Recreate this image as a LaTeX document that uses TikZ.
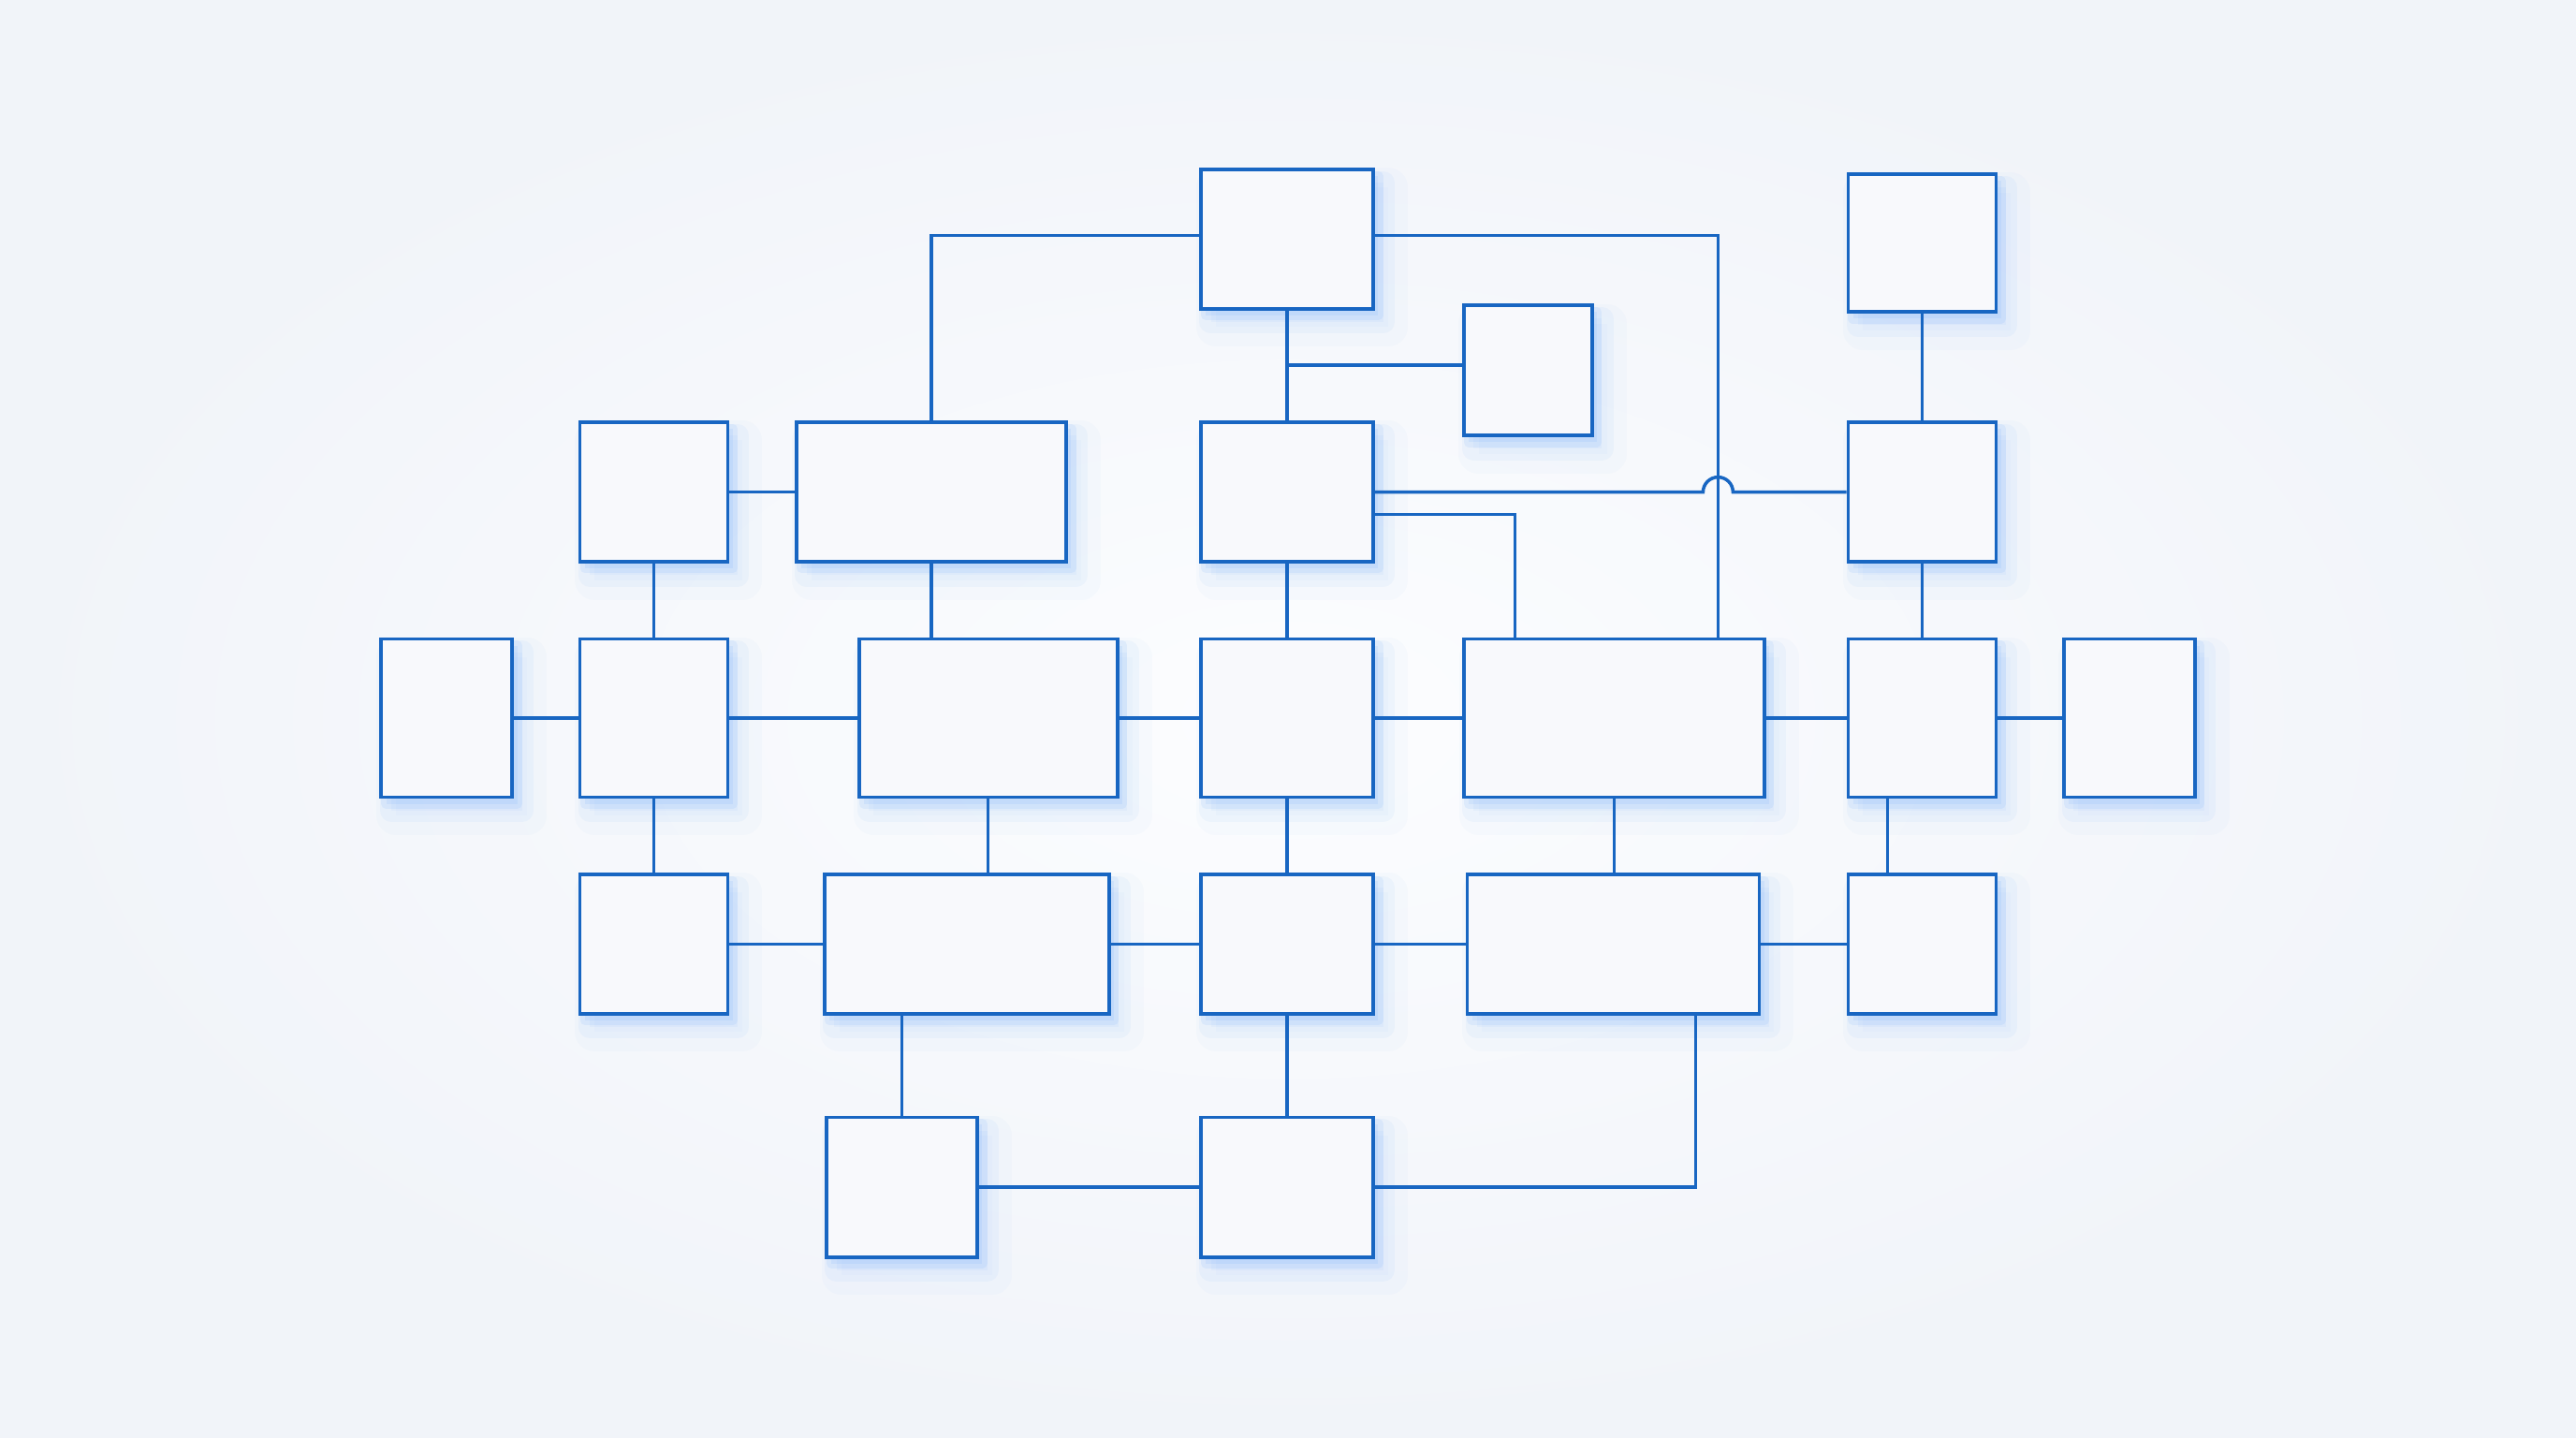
\documentclass[tikz,border=0pt]{standalone}
\usepackage{tikz}
\usetikzlibrary{shadows}
\definecolor{lineblue}{RGB}{24,102,194}
\definecolor{glowblue}{RGB}{50,135,250}
\definecolor{boxfill}{RGB}{248,249,252}
\definecolor{bgout}{RGB}{241,244,249}
\definecolor{bgin}{RGB}{252,253,255}
\begin{document}
\begin{tikzpicture}[x=0.01755cm, y=0.01755cm]
		\tikzstyle{box} = [draw=lineblue, line width=1.1pt, fill=boxfill, inner sep=0pt,
			general shadow={draw=glowblue, fill=glowblue, line width=12pt, line join=round, opacity=0.025, shadow xshift=4.5pt, shadow yshift=-5.5pt},
			general shadow={draw=glowblue, fill=glowblue, line width=7pt, line join=round, opacity=0.045, shadow xshift=3pt, shadow yshift=-4pt},
			general shadow={draw=glowblue, fill=glowblue, line width=3pt, line join=round, opacity=0.08, shadow xshift=1.5pt, shadow yshift=-2pt}]
		\tikzstyle{link} = [draw=lineblue, line width=1pt]
		\useasboundingbox (0,0) rectangle (1568,-875);
		\shade[inner color=bgin, outer color=bgout] (0,0) rectangle (1568,-875);

		% top
		\node [box, minimum width=1.84cm, minimum height=1.49cm] (top) at (783.5,-145.5) {};
		\node [box, minimum width=1.37cm, minimum height=1.39cm] (side) at (930,-225.5) {};
		\node [box, minimum width=1.58cm, minimum height=1.47cm] (topr) at (1170,-148) {};
		% second row
		\node [box, minimum width=1.58cm, minimum height=1.49cm] (a1) at (398,-299.5) {};
		\node [box, minimum width=2.88cm, minimum height=1.49cm] (a2) at (567,-299.5) {};
		\node [box, minimum width=1.84cm, minimum height=1.49cm] (a3) at (783.5,-299.5) {};
		\node [box, minimum width=1.58cm, minimum height=1.49cm] (a4) at (1170,-299.5) {};
		% middle row
		\node [box, minimum width=1.40cm, minimum height=1.69cm] (m1) at (272,-437) {};
		\node [box, minimum width=1.58cm, minimum height=1.69cm] (m2) at (398,-437) {};
		\node [box, minimum width=2.76cm, minimum height=1.69cm] (m3) at (601.5,-437) {};
		\node [box, minimum width=1.84cm, minimum height=1.69cm] (m4) at (783.5,-437) {};
		\node [box, minimum width=3.21cm, minimum height=1.69cm] (m5) at (982.5,-437) {};
		\node [box, minimum width=1.58cm, minimum height=1.69cm] (m6) at (1170,-437) {};
		\node [box, minimum width=1.40cm, minimum height=1.69cm] (m7) at (1296,-437) {};
		% fourth row
		\node [box, minimum width=1.58cm, minimum height=1.49cm] (c1) at (398,-574.5) {};
		\node [box, minimum width=3.04cm, minimum height=1.49cm] (c2) at (588.5,-574.5) {};
		\node [box, minimum width=1.84cm, minimum height=1.49cm] (c3) at (783.5,-574.5) {};
		\node [box, minimum width=3.12cm, minimum height=1.49cm] (c4) at (982,-574.5) {};
		\node [box, minimum width=1.58cm, minimum height=1.49cm] (c5) at (1170,-574.5) {};
		% bottom
		\node [box, minimum width=1.61cm, minimum height=1.49cm] (d1) at (549,-722.5) {};
		\node [box, minimum width=1.84cm, minimum height=1.49cm] (d2) at (783.5,-722.5) {};

		\coordinate (m5t) at ([xshift=1.11cm]m5.north);
		\coordinate (jmp) at (m5t |- a3.east);

		\draw[link] ([yshift=0.04cm]top.west) -| (a2.north);
		\draw[link] ([yshift=0.04cm]top.east) -| (m5t);
		\draw[link] (top.south) -- (a3.north);
		\draw[link] ([yshift=0.06cm]top.south |- side.west) -- ([yshift=0.06cm]side.west);
		\draw[link] (topr.south) -- (a4.north);
		\draw[link] (a1.east) -- (a2.west);
		\draw[link] (a3.east) -- ([xshift=-0.16cm]jmp) arc[start angle=180, end angle=0, radius=0.16cm] -- (a4.west);
		\draw[link] ([yshift=-0.24cm]a3.east) -| ([xshift=-1.06cm]m5.north);
		\draw[link] (a1.south) -- (m2.north);
		\draw[link] (a2.south) -- (a2.south |- m3.north);
		\draw[link] (a3.south) -- (m4.north);
		\draw[link] (a4.south) -- (m6.north);
		\draw[link] (m1) -- (m2);
		\draw[link] (m2) -- (m3);
		\draw[link] (m3) -- (m4);
		\draw[link] (m4) -- (m5);
		\draw[link] (m5) -- (m6);
		\draw[link] (m6) -- (m7);
		\draw[link] (m2.south) -- (c1.north);
		\draw[link] (m3.south) -- (m3.south |- c2.north);
		\draw[link] (m4.south) -- (c3.north);
		\draw[link] (m5.south) -- (m5.south |- c4.north);
		\draw[link] ([xshift=-0.37cm]m6.south) -- ([xshift=-0.37cm]m6.south |- c5.north);
		\draw[link] (c1) -- (c2);
		\draw[link] (c2) -- (c3);
		\draw[link] (c3) -- (c4);
		\draw[link] (c4) -- (c5);
		\draw[link] (d1.north |- c2.south) -- (d1.north);
		\draw[link] (c3.south) -- (d2.north);
		\draw[link] (d1) -- (d2);
		\draw[link] ([xshift=0.88cm]c4.south) |- (d2.east);
	\end{tikzpicture}
\end{document}
